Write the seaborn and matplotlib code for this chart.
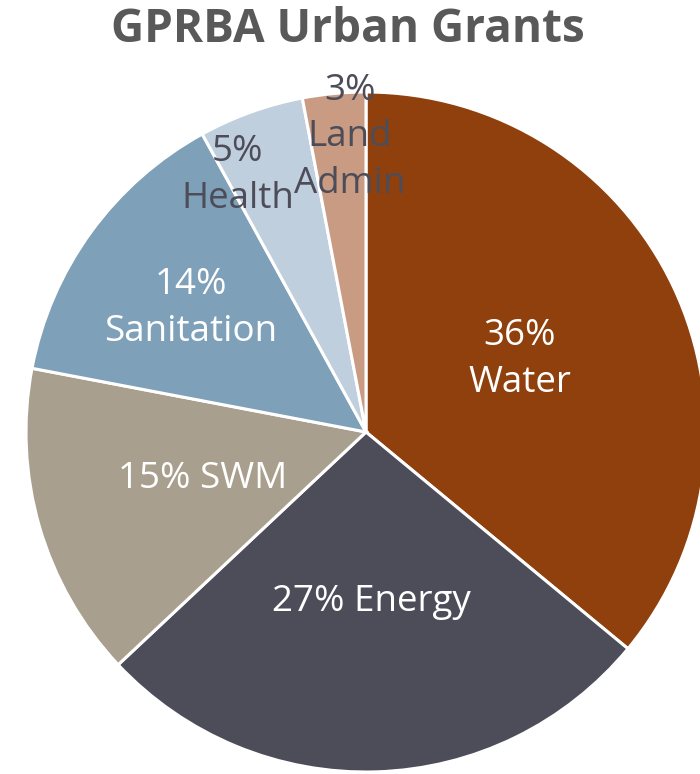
import numpy as np
import seaborn as sns
import matplotlib.pyplot as plt

# grant shares (percent)
sectors = ["Water", "Energy", "SWM", "Sanitation", "Health", "Land\nAdmin"]
shares = [36, 27, 15, 14, 5, 3]
pct_labels = ["36%\nWater", "27% Energy", "15% SWM", "14%\nSanitation", "5%\nHealth", "3%\nLand\nAdmin"]
colors = ["#8f400d", "#4d4d59", "#a99f8e", "#7ea0b8", "#bfcfdd", "#c89b82"]
label_colors = ["white", "white", "white", "white", "#4d4d59", "#4d4d59"]
label_dist = [0.5, 0.5, 0.5, 0.63, 0.843, 0.868]
label_turn = [0, 0, 0, 0.8, 6.8, -2.3]  # degrees nudged from wedge middle

sns.set_theme(style="white")
plt.rcParams['font.family'] = ['Open Sans', 'DejaVu Sans']

fig = plt.figure(figsize=(7, 7.74), dpi=100)
ax = fig.add_axes([0, 0, 1, 1])
wedges, _ = ax.pie(shares, colors=sns.color_palette(colors), startangle=90,
                   counterclock=False, center=(0, 0), radius=1,
                   wedgeprops=dict(edgecolor="white", linewidth=2.2))

for w, txt, c, d, t in zip(wedges, pct_labels, label_colors, label_dist, label_turn):
    ang = np.deg2rad((w.theta1 + w.theta2) / 2 + t)
    ax.text(d * np.cos(ang), d * np.sin(ang), txt, ha="center", va="center",
            fontsize=26.5, color=c, linespacing=1.4)

# map pixel layout: center at (366, 432), radius 340 px
r = 340
ax.set_xlim(-366 / r, (700 - 366) / r)
ax.set_ylim((432 - 774) / r, 432 / r)
ax.set_aspect("auto")
ax.axis("off")

fig.text(348 / 700, 1 - 29 / 774, "GPRBA Urban Grants", ha="center", va="center",
         fontsize=33, fontweight="bold", color="#595959")

fig.savefig("out.png", dpi=100)
